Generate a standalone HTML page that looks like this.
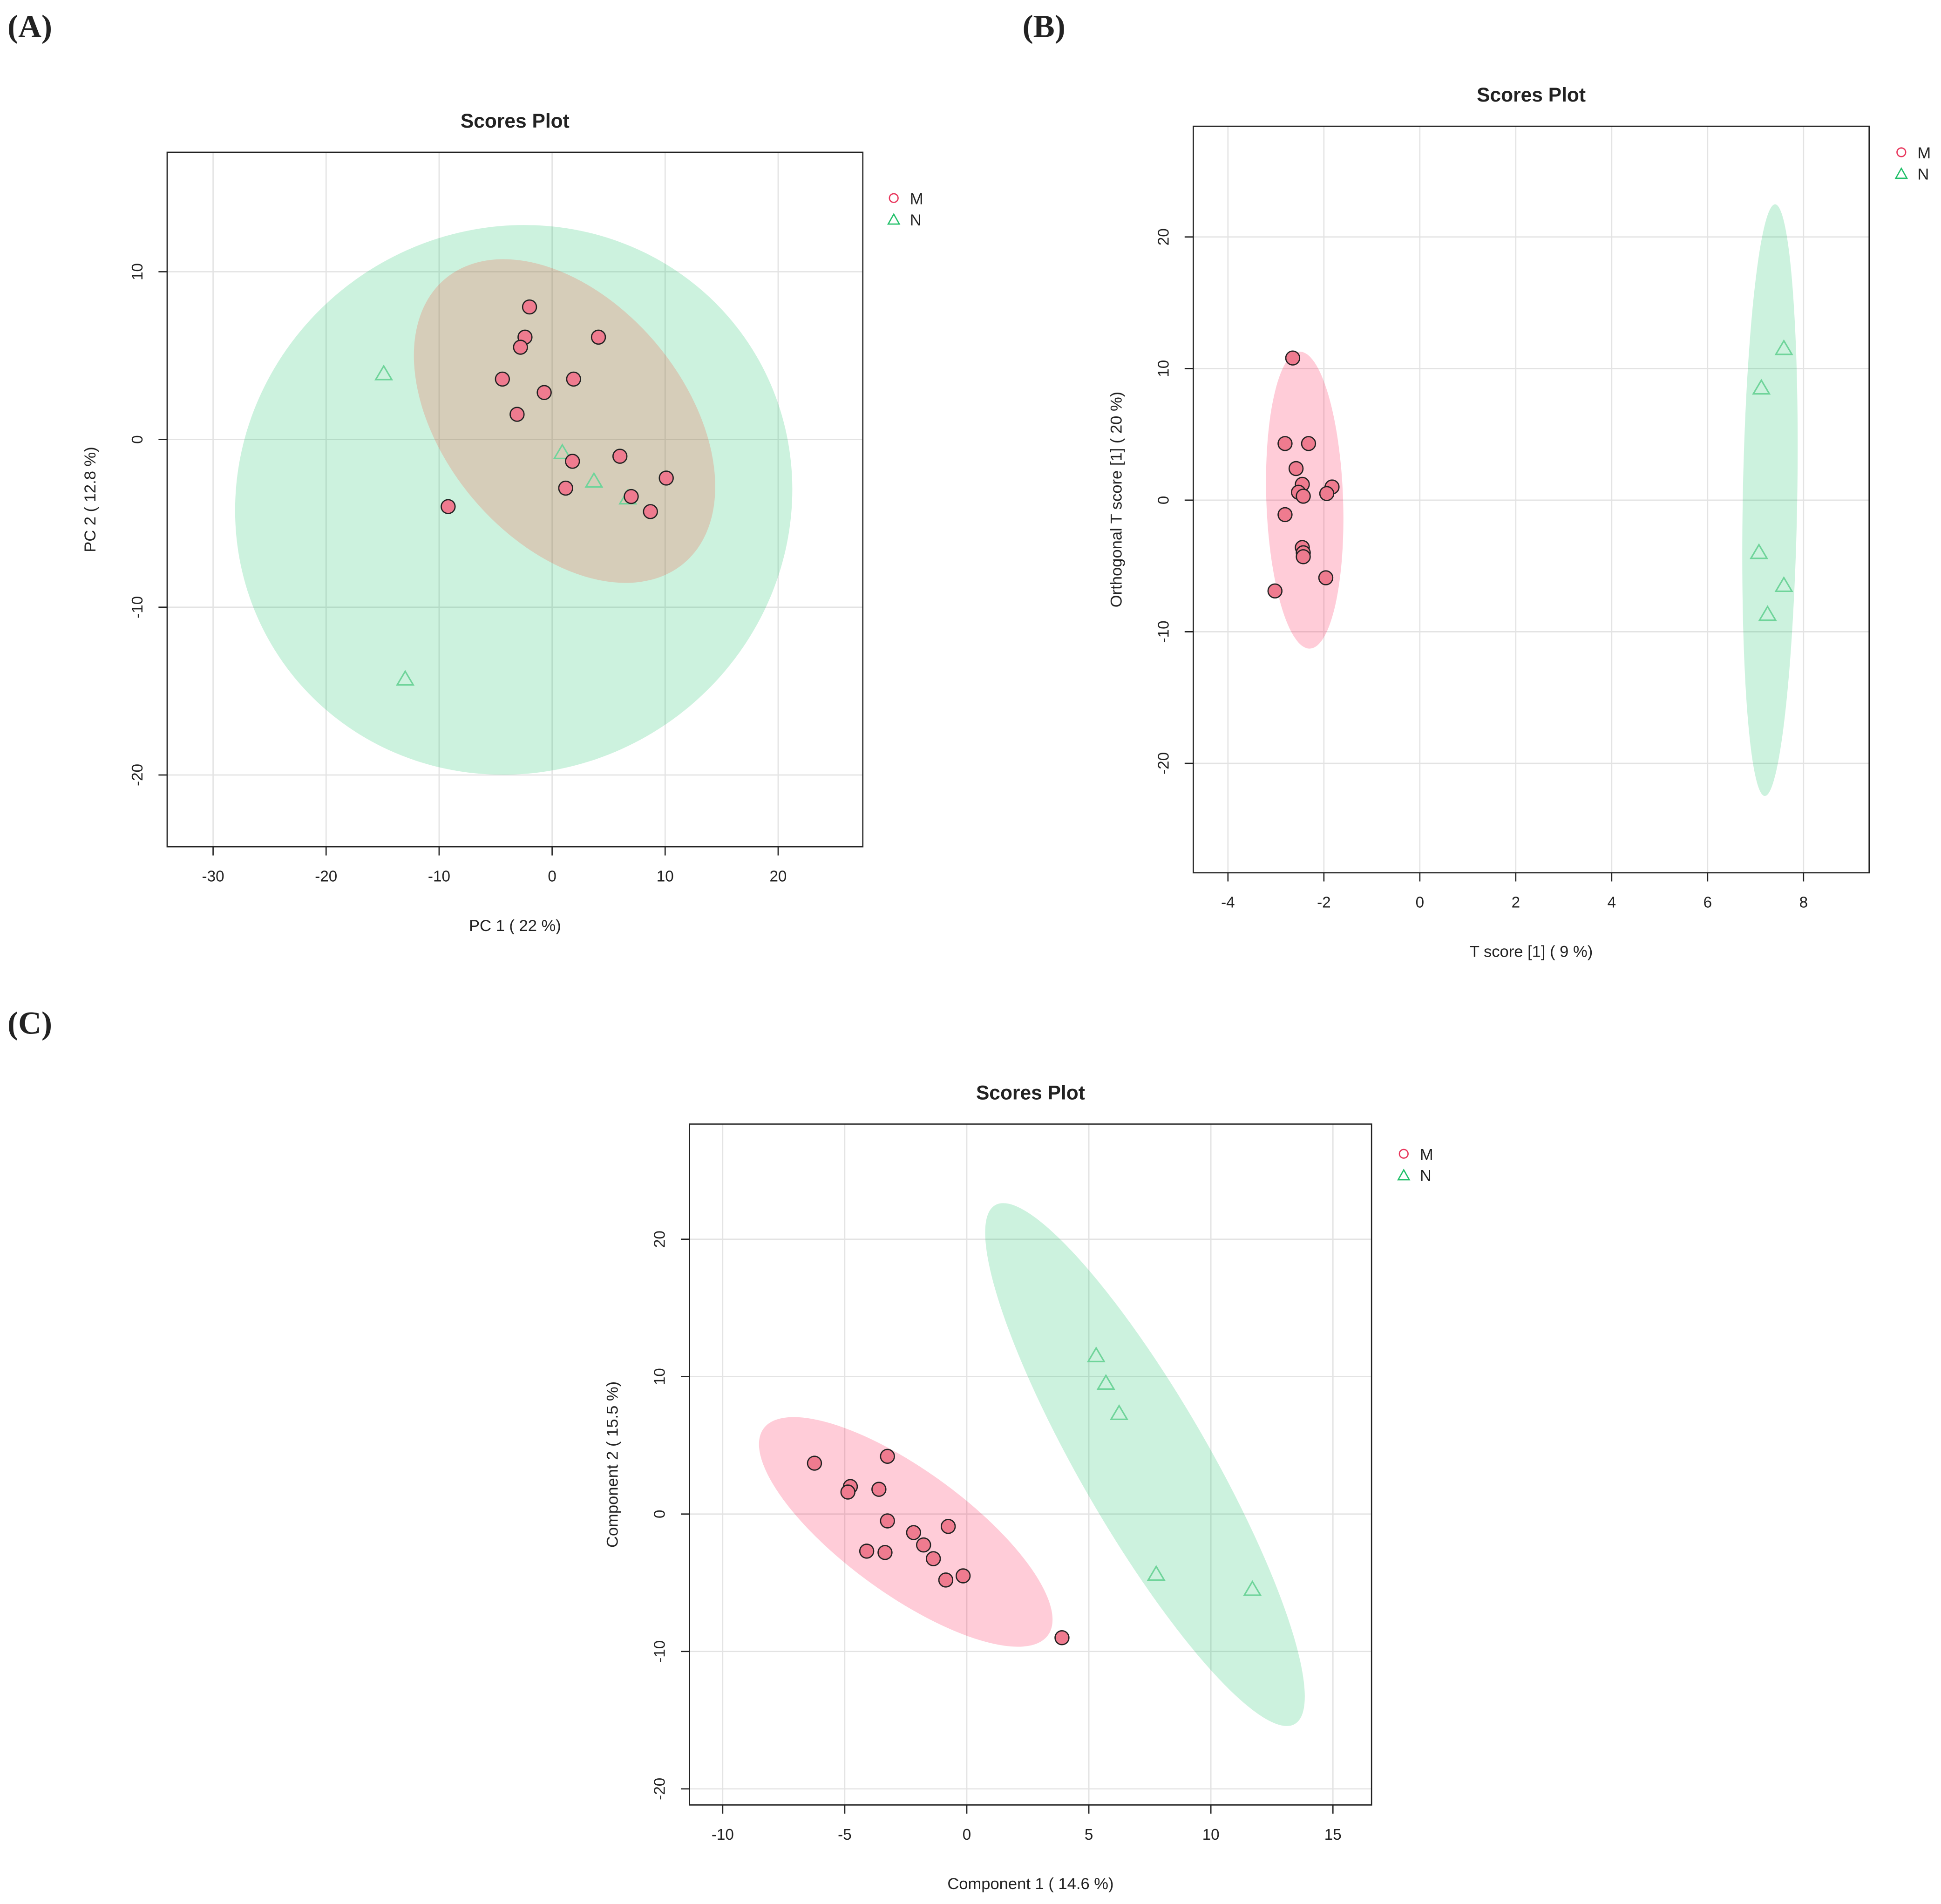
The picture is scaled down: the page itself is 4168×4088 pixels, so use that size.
<!DOCTYPE html>
<html><head><meta charset="utf-8"><style>
html,body{margin:0;padding:0;background:#fff;}
svg{display:block;}
text{font-family:"Liberation Sans",sans-serif;fill:#222;}
</style></head><body>
<svg id="chart" width="4168" height="4088" viewBox="0 0 1568 1538" xmlns="http://www.w3.org/2000/svg"></svg>
<script>
// Panel A data (PCA)
const aMx=[-2.0,-2.4,-2.8,4.1,-4.4,1.9,-0.7,-3.1,6.0,1.8,10.1,1.2,7.0,8.7,-9.2];
const aMy=[7.9,6.1,5.5,6.1,3.6,3.6,2.8,1.5,-1.0,-1.3,-2.3,-2.9,-3.4,-4.3,-4.0];
const aNx=[-14.9,-13.0,0.9,3.7,6.7];
const aNy=[3.9,-14.3,-0.8,-2.5,-3.5];
const aXTicks=[-30,-20,-10,0,10,20];
const aYTicks=[10,0,-10,-20];
// Panel B data (OPLS-DA)
const bMx=[-2.65,-2.81,-2.32,-2.58,-2.45,-1.83,-2.53,-2.43,-1.94,-2.81,-2.45,-2.43,-2.43,-1.96,-3.02];
const bMy=[10.8,4.3,4.3,2.4,1.2,1.0,0.6,0.3,0.5,-1.1,-3.6,-4.0,-4.3,-5.9,-6.9];
const bNx=[7.59,7.12,7.07,7.59,7.25];
const bNy=[11.5,8.5,-4.0,-6.5,-8.7];
const bXTicks=[-4,-2,0,2,4,6,8];
const bYTicks=[20,10,0,-10,-20];
// Panel C data (PLS-DA)
const cMx=[-6.24,-4.77,-4.87,-3.25,-3.6,-3.25,-0.76,-2.18,-1.77,-4.1,-3.35,-1.37,-0.86,-0.15,3.9];
const cMy=[3.7,2.0,1.6,4.2,1.8,-0.5,-0.9,-1.35,-2.25,-2.7,-2.8,-3.25,-4.8,-4.5,-9.0];
const cNx=[5.3,5.7,6.24,7.76,11.7];
const cNy=[11.5,9.5,7.3,-4.4,-5.5];
const cXTicks=[-10,-5,0,5,10,15];
const cYTicks=[20,10,0,-10,-20];

const NS="http://www.w3.org/2000/svg";
const svg=document.getElementById('chart');
function mk(tag,attrs,parent){const e=document.createElementNS(NS,tag);for(const k in attrs)e.setAttribute(k,attrs[k]);(parent||svg).appendChild(e);return e;}

function panel(cfg){
  const g=mk('g',{});
  
  
  const sx=v=>cfg.x0px+(v-cfg.x0)*cfg.kx;
  const sy=v=>cfg.y0px-(v-cfg.y0)*cfg.ky;
  const b=cfg.box;
  cfg.xt.forEach(t=>{const l=mk('line',{x1:sx(t),x2:sx(t),y1:b[1],y2:b[3],stroke:'#e3e3e3','stroke-width':1},g);
    });
  cfg.yt.forEach(t=>{const l=mk('line',{x1:b[0],x2:b[2],y1:sy(t),y2:sy(t),stroke:'#e3e3e3','stroke-width':1},g);
    });
  cfg.ell.forEach(e=>{
    const cx=sx(e[0]),cy=sy(e[1]);
    const el=mk('ellipse',{cx:cx,cy:cy,rx:e[2],ry:e[3],transform:`rotate(${e[4]} ${cx} ${cy})`,fill:e[5]},g);
    
    
  });
  cfg.nx.forEach((v,i)=>{const x=sx(v),y=sy(cfg.ny[i]);
    const p=mk('polygon',{points:`${x},${y-6.5} ${x-6.5},${y+4.5} ${x+6.5},${y+4.5}`,fill:'none',stroke:'#6fd49a','stroke-width':1.2},g);
    });
  cfg.mx.forEach((v,i)=>{
    const c=mk('circle',{cx:sx(v),cy:sy(cfg.my[i]),r:5.6,fill:'#ef7b8f',stroke:'#222','stroke-width':1},g);
    });
  const r=mk('rect',{x:b[0],y:b[1],width:b[2]-b[0],height:b[3]-b[1],fill:'none',stroke:'#222','stroke-width':1},g);
  
  cfg.xt.forEach(t=>{mk('line',{x1:sx(t),x2:sx(t),y1:b[3],y2:b[3]+7,stroke:'#222'},g);
    const tx=mk('text',{x:sx(t),y:b[3]+28,'font-size':12.5,'text-anchor':'middle'},g);tx.textContent=t;
    });
  cfg.yt.forEach(t=>{mk('line',{x1:b[0]-7,x2:b[0],y1:sy(t),y2:sy(t),stroke:'#222'},g);
    const tx=mk('text',{x:b[0]-20,y:sy(t),'font-size':12.5,'text-anchor':'middle',transform:`rotate(-90 ${b[0]-20} ${sy(t)})`},g);tx.textContent=t;
    });
  const tt=mk('text',{x:(b[0]+b[2])/2,y:b[1]-20,'font-size':16,'font-weight':'bold','text-anchor':'middle'},g);tt.textContent='Scores Plot';
  
  const xl=mk('text',{x:(b[0]+b[2])/2,y:b[3]+68,'font-size':13,'text-anchor':'middle'},g);xl.textContent=cfg.xlab;
  
  const yx=b[0]-58, yy=(b[1]+b[3])/2;
  const yl=mk('text',{x:yx,y:yy,'font-size':13,'text-anchor':'middle',transform:`rotate(-90 ${yx} ${yy})`},g);yl.textContent=cfg.ylab;
  
  const lg=mk('g',{},g);
  const lx=cfg.leg[0],ly=cfg.leg[1];
  mk('circle',{cx:lx,cy:ly,r:3.5,fill:'none',stroke:'#e8365c','stroke-width':1},lg);
  const m=mk('text',{x:lx+13,y:ly+5,'font-size':13},lg);m.textContent='M';
  
  mk('polygon',{points:`${lx},${ly+13} ${lx-4.5},${ly+21} ${lx+4.5},${ly+21}`,fill:'none',stroke:'#22c06a','stroke-width':1},lg);
  const n=mk('text',{x:lx+13,y:ly+22,'font-size':13},lg);n.textContent='N';
  
}
const GREEN='rgba(0,190,90,0.2)', PINK='rgba(255,0,60,0.2)', BROWN='rgba(255,60,40,0.2)';
panel({name:'panel-a-pca',box:[135,123,697,684],x0:0,x0px:446,kx:9.13,y0:0,y0px:355,ky:13.55,
  xt:aXTicks,yt:aYTicks,mx:aMx,my:aMy,nx:aNx,ny:aNy,
  ell:[[-3.4,-3.6,228,219,-35,GREEN],[1.1,1.1,150,97,50,BROWN]],
  xlab:'PC 1 ( 22 %)',ylab:'PC 2 ( 12.8 %)',leg:[722,160]});
panel({name:'panel-b-oplsda',box:[964,102,1510,705],x0:0,x0px:1147,kx:38.75,y0:0,y0px:404,ky:10.63,
  xt:bXTicks,yt:bYTicks,mx:bMx,my:bMy,nx:bNx,ny:bNy,
  ell:[[-2.4,0,31,120,-2,PINK],[7.3,0,22,239,1,GREEN]],
  xlab:'T score [1] ( 9 %)',ylab:'Orthogonal T score [1] ( 20 %)',leg:[1536,123]});
panel({name:'panel-c-plsda',box:[557,908,1108,1458],x0:0,x0px:781,kx:19.72,y0:0,y0px:1223,ky:11.1,
  xt:cXTicks,yt:cYTicks,mx:cMx,my:cMy,nx:cNx,ny:cNy,
  ell:[[-2.5,-1.3,142,50,36,PINK],[7.3,3.6,242,52,60,GREEN]],
  xlab:'Component 1 ( 14.6 %)',ylab:'Component 2 ( 15.5 %)',leg:[1134,932]});
[['(A)',6,30],['(B)',826,30],['(C)',6,835]].forEach(p=>{
  const t=mk('text',{x:p[1],y:p[2],'font-size':26,'font-weight':'bold',style:'font-family:"Liberation Serif",serif'});
  t.textContent=p[0];
  
  
});
</script>
</body></html>
